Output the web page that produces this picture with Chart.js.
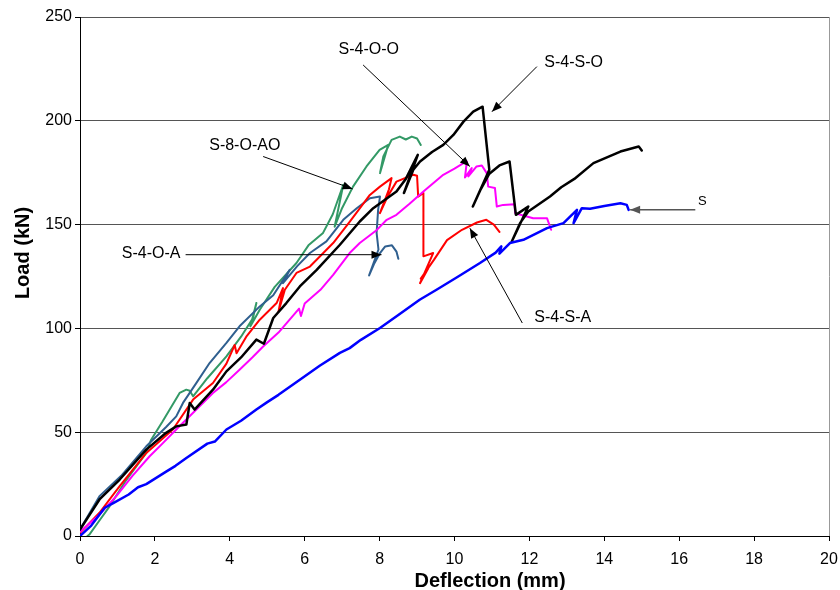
<!DOCTYPE html>
<html>
<head>
<meta charset="utf-8">
<script src="https://cdn.jsdelivr.net/npm/chart.js@4.4.1/dist/chart.umd.min.js"></script>
<style>
  html, body { margin: 0; padding: 0; background: #fff; }
  #wrap { width: 840px; height: 590px; }
</style>
</head>
<body>
<div id="wrap"><canvas id="chart" width="840" height="590"></canvas></div>
<script>
// Deflection (mm) / Load (kN)
const sDefl = [0, 0.3, 0.66, 0.9, 1.3, 1.55, 1.77, 2.3, 2.55, 2.84, 3.4, 3.6, 3.91, 4.3, 4.71, 5.0, 5.3, 5.87, 6.4, 6.94, 7.2, 7.5, 8.01, 8.5, 9.07, 9.52, 10.1, 10.68, 11.1, 11.25, 11.2, 11.48, 11.84, 12.47, 12.91, 13.27, 13.18, 13.4, 13.62, 14.0, 14.43, 14.6, 14.65];
const sLoad = [0, 5, 13.6, 16, 20, 23.5, 25, 31, 33.8, 37.6, 44.5, 45.5, 51.3, 55.5, 60.9, 64.5, 68, 75.3, 82, 88.2, 90.5, 94.5, 100.2, 106.5, 113.8, 118.6, 125, 131.5, 136.5, 139.5, 136, 141.1, 142.7, 148.3, 150.7, 157.1, 150.7, 157.9, 157.6, 159, 160.3, 159.5, 157.1];

const s4ooDefl = [0, 0.5, 0.97, 1.4, 1.86, 2.2, 2.57, 3.0, 3.55, 3.9, 4.26, 4.6, 4.89, 5.3, 5.85, 5.9, 6.0, 6.42, 6.76, 7.2, 7.47, 7.9, 8.19, 8.45, 8.8, 9.17, 9.7, 10.0, 10.24, 10.33, 10.28, 10.46, 10.37, 10.59, 10.73, 10.86, 10.9, 11.08, 11.13, 11.3, 11.6, 11.62, 12.1, 12.47, 12.58];
const s4ooLoad = [2, 10, 19.2, 29, 38.4, 44.5, 51.3, 59, 68.9, 74, 80.1, 86, 91.3, 98, 109.5, 106, 112, 118.6, 125.8, 136.3, 141.1, 147, 152.3, 154.7, 160, 165.9, 174, 177, 179.6, 180.4, 172.7, 177.2, 173.2, 178, 178.5, 174.8, 168.3, 167.6, 158.7, 159.5, 159.8, 155.5, 153.1, 153.1, 147.5];

const s4saDefl = [0, 0.52, 1.06, 1.77, 2.48, 3.02, 3.55, 3.91, 4.13, 4.18, 4.44, 4.8, 5.25, 5.42, 5.3, 5.47, 5.78, 6.14, 6.76, 7.21, 7.74, 8.01, 8.32, 8.25, 8.01, 8.2, 8.45, 8.9, 9.0, 9.03, 9.17, 9.17, 9.43, 9.08, 9.3, 9.1, 9.45, 9.8, 10.2, 10.6, 10.85, 11.05, 11.2];
const s4saLoad = [1.5, 11.2, 24, 40, 51.3, 65.7, 73.7, 83, 92, 88, 96, 104.2, 112.2, 119.4, 108, 118.6, 126.7, 129.8, 141.1, 151.5, 164.3, 168.3, 172.4, 167, 155.5, 163, 170.7, 174, 173.5, 163.5, 165.2, 134.7, 136.3, 121.8, 129, 124, 133, 142.5, 147.5, 151, 152.3, 150, 146.5];

const s4oaDefl = [0, 0.52, 1.1, 1.77, 2.3, 2.57, 2.75, 3.1, 3.46, 3.91, 4.26, 4.8, 5.16, 5.6, 5.42, 5.8, 6.14, 6.58, 7.03, 7.39, 7.74, 8.01, 7.96, 7.92, 7.97, 7.72, 7.85, 8.0, 8.15, 8.33, 8.45, 8.5];
const s4oaLoad = [3.1, 19.2, 29, 43.2, 52.5, 57.6, 64.1, 73.5, 83.3, 93, 101, 110.6, 116, 128.2, 121.8, 130, 136.3, 141.9, 152.3, 157.9, 162.7, 163.5, 157, 146, 138, 125.5, 131, 136, 139.5, 140, 137, 133.5];

const s8aoDefl = [0.2, 0.25, 0.5, 0.79, 1.2, 1.77, 1.9, 2.2, 2.66, 2.84, 2.93, 3.02, 3.4, 3.91, 4.3, 4.62, 4.71, 4.55, 4.8, 5.2, 5.78, 6.1, 6.49, 6.75, 7.03, 6.8, 7.0, 7.29, 7.65, 8.0, 8.23, 8.01, 8.1, 8.32, 8.54, 8.7, 8.86, 9.0, 9.1];
const s8aoLoad = [0, 0.7, 7, 14.3, 26, 40, 46.4, 55, 68.9, 70.5, 70, 67.3, 76, 86.5, 96, 105, 112.2, 101, 109, 120, 131.5, 140, 146, 155, 169.2, 149, 158, 168.3, 178, 186, 188.4, 174.8, 182.8, 190.8, 192.4, 191, 192.4, 191.5, 188.4];

const s4soDefl = [0, 0.52, 1.06, 1.77, 2.3, 2.57, 2.84, 2.93, 3.06, 3.55, 3.91, 4.3, 4.71, 4.91, 5.16, 5.51, 5.87, 6.32, 6.94, 7.47, 7.83, 8.45, 8.7, 9.02, 8.65, 8.9, 9.08, 9.4, 9.7, 9.97, 10.24, 10.5, 10.75, 10.93, 10.49, 10.7, 10.93, 11.2, 11.47, 11.64, 11.97, 11.53, 11.75, 11.97, 12.55, 12.85, 13.2, 13.71, 14.43, 14.92, 15.0];
const s4soLoad = [3.1, 17.6, 27.2, 41.6, 49.7, 52.8, 53.7, 64.1, 60.9, 70.5, 79.3, 86, 94.6, 92.6, 105, 112.2, 120.2, 128.2, 140.3, 151.5, 157.9, 165.9, 172, 183.6, 165.2, 176.4, 180.4, 185, 188.4, 193.2, 199.6, 204.4, 206.8, 176.4, 158.7, 167, 174.5, 178.5, 180.4, 154.7, 158.7, 141.9, 150.7, 156.3, 163.5, 168, 172, 179.6, 185.2, 187.6, 185.7];

// callout labels: text position and arrow (tail -> head), in data units
const calloutText = ["S-4-O-O", "S-4-S-O", "S-8-O-AO", "S-4-O-A", "S-4-S-A", "S"];
const calloutTextX = [7.71, 13.18, 4.4, 1.9, 12.89, 16.62];
const calloutTextY = [234.1, 228.2, 188.1, 135.9, 105, 161.1];
const calloutFromX = [7.56, 12.2, 4.89, 2.82, 11.81, 16.43];
const calloutFromY = [226.9, 226.1, 182.8, 135.5, 102.6, 157.1];
const calloutToX = [10.41, 11.0, 7.28, 8.05, 10.41, 14.69];
const calloutToY = [178, 204.4, 167.2, 135.5, 148.3, 157.1];

const xTicks = [0, 2, 4, 6, 8, 10, 12, 14, 16, 18, 20];
const yTicks = [0, 50, 100, 150, 200, 250];

function pts(xs, ys) {
  return xs.map((x, i) => ({ x: x, y: ys[i] }));
}

function series(label, xs, ys, color, width) {
  return {
    label: label,
    data: pts(xs, ys),
    borderColor: color,
    backgroundColor: color,
    borderWidth: width,
    pointRadius: 0,
    showLine: true,
    tension: 0,
    fill: false,
    borderJoinStyle: "round",
    borderCapStyle: "round",
  };
}

const FONT = "'Liberation Sans', Arial, sans-serif";

const extras = {
  id: "extras",
  afterDraw(chart) {
    const ctx = chart.ctx;
    const xs = chart.scales.x;
    const ys = chart.scales.y;
    const area = chart.chartArea;
    ctx.save();

    // right border of the plot
    ctx.strokeStyle = "#999";
    ctx.lineWidth = 1;
    ctx.beginPath();
    ctx.moveTo(Math.round(area.right) + 0.5, area.top);
    ctx.lineTo(Math.round(area.right) + 0.5, area.bottom);
    ctx.stroke();

    // callouts
    for (let i = 0; i < calloutText.length; i++) {
      const x1 = xs.getPixelForValue(calloutFromX[i]);
      const y1 = ys.getPixelForValue(calloutFromY[i]);
      const x2 = xs.getPixelForValue(calloutToX[i]);
      const y2 = ys.getPixelForValue(calloutToY[i]);
      const col = calloutText[i] === "S" ? "#555" : "#000";
      ctx.strokeStyle = col;
      ctx.fillStyle = col;
      ctx.lineWidth = calloutText[i] === "S" ? 1.5 : 1;
      ctx.beginPath();
      ctx.moveTo(x1, y1);
      ctx.lineTo(x2, y2);
      ctx.stroke();
      const a = Math.atan2(y2 - y1, x2 - x1);
      const len = 10, half = 4;
      ctx.beginPath();
      ctx.moveTo(x2, y2);
      ctx.lineTo(x2 - len * Math.cos(a) + half * Math.sin(a), y2 - len * Math.sin(a) - half * Math.cos(a));
      ctx.lineTo(x2 - len * Math.cos(a) - half * Math.sin(a), y2 - len * Math.sin(a) + half * Math.cos(a));
      ctx.closePath();
      ctx.fill();

      ctx.fillStyle = "#000";
      ctx.font = (calloutText[i] === "S" ? "13px " : "16px ") + FONT;
      ctx.textAlign = "center";
      ctx.textBaseline = "middle";
      ctx.fillText(calloutText[i], xs.getPixelForValue(calloutTextX[i]), ys.getPixelForValue(calloutTextY[i]));
    }

    // axis titles
    ctx.fillStyle = "#000";
    ctx.font = "bold 20px " + FONT;
    ctx.textAlign = "center";
    ctx.textBaseline = "alphabetic";
    ctx.fillText("Deflection (mm)", 490, 587);
    ctx.translate(29, 253);
    ctx.rotate(-Math.PI / 2);
    ctx.fillText("Load (kN)", 0, 0);
    ctx.restore();
  },
};

const config = {
  type: "scatter",
  data: {
    datasets: [
      series("S", sDefl, sLoad, "#0000ff", 2.5),
      series("S-4-S-O", s4soDefl, s4soLoad, "#000000", 2.5),
      series("S-4-O-O", s4ooDefl, s4ooLoad, "#ff00ff", 2),
      series("S-4-S-A", s4saDefl, s4saLoad, "#ff0000", 2),
      series("S-4-O-A", s4oaDefl, s4oaLoad, "#2f5f8f", 2),
      series("S-8-O-AO", s8aoDefl, s8aoLoad, "#339966", 2),
    ],
  },
  options: {
    responsive: false,
    animation: false,
    events: [],
    layout: { padding: { top: 17, right: 11, left: 0, bottom: 0 } },
    plugins: { legend: { display: false }, tooltip: { enabled: false } },
    scales: {
      x: {
        type: "linear",
        min: 0,
        max: 20,
        afterBuildTicks: (s) => { s.ticks = xTicks.map((v) => ({ value: v })); },
        afterFit: (s) => { s.height = 54; s.paddingLeft = 0; s.paddingRight = 0; },
        ticks: { color: "#000", font: { family: FONT, size: 16 }, padding: 9, maxRotation: 0 },
        grid: { drawOnChartArea: false, drawTicks: true, tickLength: 5, color: "#000" },
        border: { display: true, color: "#000", width: 1 },
      },
      y: {
        type: "linear",
        min: 0,
        max: 250,
        afterBuildTicks: (s) => { s.ticks = yTicks.map((v) => ({ value: v })); },
        afterFit: (s) => { s.width = 80; },
        ticks: { color: "#000", font: { family: FONT, size: 16 }, padding: 3 },
        grid: {
          color: (c) => (c.tick && c.tick.value === 0 ? "rgba(0,0,0,0)" : "#555"),
          tickColor: "#000",
          tickLength: 5,
        },
        border: { display: true, color: "#000", width: 1 },
      },
    },
  },
  plugins: [extras],
};

new Chart(document.getElementById("chart").getContext("2d"), config);
</script>
</body>
</html>
